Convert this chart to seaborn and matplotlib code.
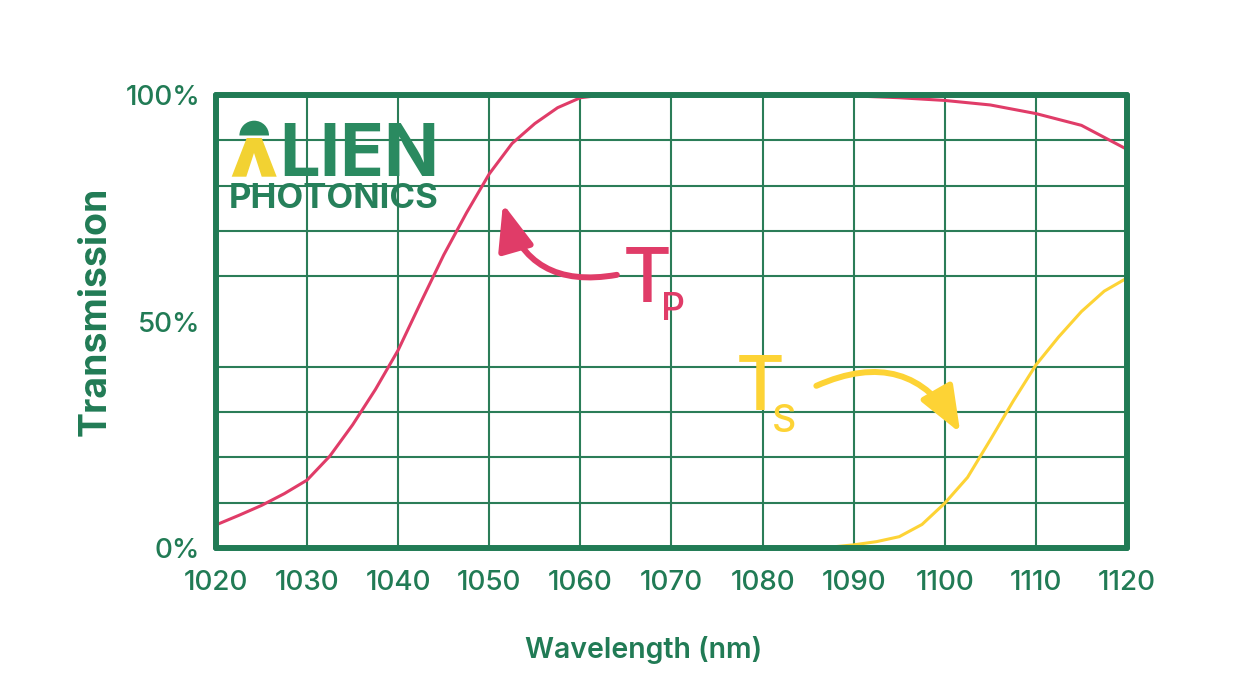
import numpy as np
import pandas as pd
import matplotlib
matplotlib.use("Agg")
import matplotlib.pyplot as plt
import seaborn as sns
from matplotlib.patches import Polygon, Wedge, FancyArrowPatch
from matplotlib.transforms import Affine2D

# ---------------- data ----------------
tp_wavelength = [1020, 1022.5, 1025, 1027.5, 1030, 1032.5, 1035, 1037.5, 1040, 1042.5,
                 1045, 1047.5, 1050, 1052.5, 1055, 1057.5, 1060, 1062.5, 1065, 1070,
                 1080, 1085, 1090, 1095, 1100, 1105, 1110, 1115, 1120]
tp_values = [5.1, 7.2, 9.4, 12.0, 15.0, 20.3, 27.2, 35.0, 43.7, 54.3,
             64.7, 74.0, 82.6, 89.3, 93.7, 97.2, 99.4, 100, 100, 100,
             100, 100, 99.8, 99.4, 98.8, 97.8, 95.9, 93.3, 88.0]

ts_wavelength = [1020, 1030, 1040, 1050, 1060, 1070, 1080, 1085, 1087.5, 1090, 1092.5,
                 1095, 1097.5, 1100, 1102.5, 1105, 1107.5, 1110, 1112.5, 1115,
                 1117.5, 1120]
ts_values = [0, 0, 0, 0, 0, 0, 0, 0, 0.2, 0.7, 1.4,
             2.5, 5.2, 9.9, 15.6, 23.9, 32.4, 40.4, 46.6, 52.2,
             56.7, 59.6]

x_ticks = [1020, 1030, 1040, 1050, 1060, 1070, 1080, 1090, 1100, 1110, 1120]
y_ticks = [0, 50, 100]
y_tick_labels = ["0%", "50%", "100%"]

GREEN = "#217b55"
PINK = "#e03c68"
YELLOW = "#fdd335"

sns.set_theme(style="white")
plt.rcParams["font.family"] = ["Inter", "DejaVu Sans"]

fig = plt.figure(figsize=(12.4, 7), dpi=100)
ax = fig.add_axes([216 / 1240, 1 - 548 / 700, 911 / 1240, 453 / 700])

tp_df = pd.DataFrame({"wl": tp_wavelength, "T": tp_values})
ts_df = pd.DataFrame({"wl": ts_wavelength, "T": ts_values})
sns.lineplot(data=tp_df, x="wl", y="T", ax=ax, color=PINK, linewidth=2.2, zorder=3)
sns.lineplot(data=ts_df, x="wl", y="T", ax=ax, color=YELLOW, linewidth=2.2, zorder=3)

ax.set_xlim(1020, 1120)
ax.set_ylim(0, 100)

# grid
ax.set_xticks(x_ticks)
ax.set_xticklabels([str(v) for v in x_ticks])
ax.set_yticks(y_ticks)
ax.set_yticklabels(y_tick_labels)
ax.set_yticks(np.arange(0, 101, 10), minor=True)
ax.grid(True, which="major", axis="x", color="#2b7d58", linewidth=1.5)
ax.grid(True, which="minor", axis="y", color="#2b7d58", linewidth=1.5)
ax.set_axisbelow(True)

for sp in ax.spines.values():
    sp.set_visible(True)
    sp.set_color(GREEN)
    sp.set_linewidth(4.3)
    sp.set_capstyle("round")
    sp.set_zorder(4)

ax.tick_params(axis="both", which="major", direction="out", length=9.5, width=4.3,
               color=GREEN, labelcolor=GREEN, labelsize=20)
ax.tick_params(axis="y", which="major", pad=2)
ax.tick_params(axis="x", which="major", pad=6)
ax.tick_params(axis="both", which="minor", length=0)
for lbl in ax.get_xticklabels() + ax.get_yticklabels():
    lbl.set_fontweight("medium")
for i, t in enumerate(ax.xaxis.get_major_ticks()):
    if i != 0:
        t.tick1line.set_visible(False)
for i, t in enumerate(ax.yaxis.get_major_ticks()):
    if i == 1:
        t.tick1line.set_visible(False)
for t in ax.xaxis.get_major_ticks() + ax.yaxis.get_major_ticks():
    t.tick1line.set_zorder(5)

ax.set_xlabel("Wavelength (nm)", color=GREEN, fontsize=20.5, fontweight="semibold")
ax.xaxis.set_label_coords(0.469, -0.195)
ax.set_ylabel("Transmission", color=GREEN, fontsize=27, fontweight="bold")
ax.yaxis.set_label_coords(-0.112, 0.523)

# ---------------- annotations ----------------
ax.add_patch(FancyArrowPatch((1064.0, 60.3), (1051.5, 76.0),
                             connectionstyle="arc3,rad=-0.45",
                             arrowstyle="-|>,head_length=1.4,head_width=0.55",
                             mutation_scale=20, color=PINK, linewidth=4.3,
                             shrinkA=0, shrinkB=0, zorder=6, capstyle="round"))
ax.text(1064.7, 54.3, "T", color=PINK, fontsize=54, fontweight="medium",
        ha="left", va="baseline", zorder=6)
ax.text(1068.8, 50.3, "P", color=PINK, fontsize=27, fontweight="medium",
        ha="left", va="baseline", zorder=6)

ax.add_patch(FancyArrowPatch((1085.9, 35.8), (1101.7, 25.4),
                             connectionstyle="arc3,rad=-0.45",
                             arrowstyle="-|>,head_length=1.4,head_width=0.55",
                             mutation_scale=20, color=YELLOW, linewidth=4.3,
                             shrinkA=0, shrinkB=0, zorder=6))
ax.text(1077.0, 30.5, "T", color=YELLOW, fontsize=54, fontweight="medium",
        ha="left", va="baseline", zorder=6)
ax.text(1081.0, 25.6, "S", color=YELLOW, fontsize=27, fontweight="medium",
        ha="left", va="baseline", zorder=6)

# ---------------- logo ----------------
px = Affine2D().scale(1 / 1240, -1 / 700).translate(0, 1) + fig.transFigure
lam = Polygon([(231.7, 176.7), (246.7, 138), (261.7, 138), (276.7, 176.7),
               (261.7, 176.7), (254, 153), (246.3, 176.7)],
              closed=True, transform=px, facecolor="#f2d232", edgecolor="none", zorder=10)
fig.patches.append(lam)
dome = Wedge((254.2, 135.5), 14.8, 180, 360, transform=px, facecolor="#2a8a60",
             edgecolor="none", zorder=10)
fig.patches.append(dome)
fig.text(279 / 1240, 1 - 176.5 / 700, "LIEN", color="#2a8a60", fontsize=52,
         fontweight="bold", ha="left", va="baseline", zorder=10)
fig.text(229 / 1240, 1 - 208.5 / 700, "PHOTONICS", color="#26805a", fontsize=25,
         fontweight="bold", ha="left", va="baseline", zorder=10)

fig.savefig("out.png", dpi=100)
